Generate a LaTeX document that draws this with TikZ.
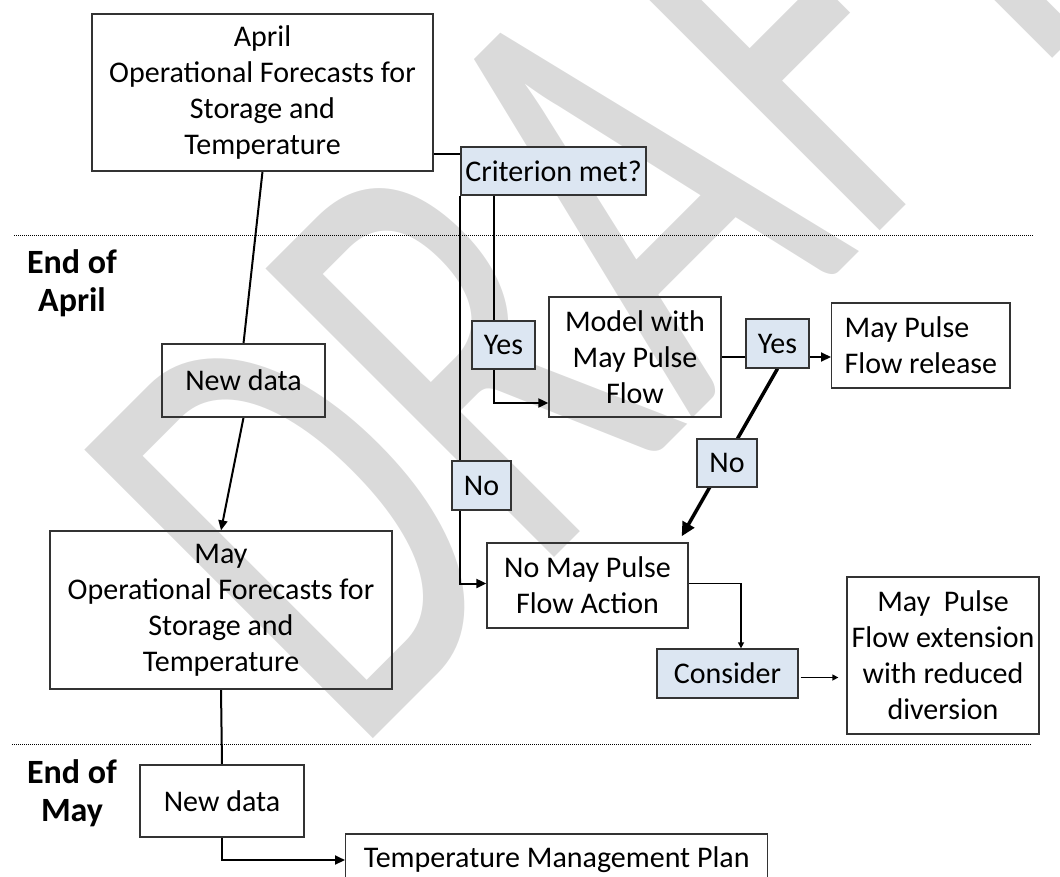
\documentclass[tikz,border=0pt]{standalone}
\usepackage{fontspec}
\setmainfont{Carlito}
\usetikzlibrary{arrows.meta}
\definecolor{answerblue}{RGB}{220,230,242}
\definecolor{draftgray}{RGB}{218,218,218}
\newcommand{\boxfont}{\fontsize{30}{36}\selectfont}
\newcommand{\phasefont}{\fontsize{34}{38}\selectfont\bfseries}
\pgfdeclarelayer{draft}
\pgfdeclarelayer{wires}
\pgfsetlayers{draft,wires,main}

\begin{document}
\begin{tikzpicture}[x=1pt,y=-1pt,>={Triangle[length=10pt,width=9pt]},
    box/.style={draw=black!80,line width=1.3pt,inner sep=0pt,align=center,font=\boxfont},
    answer/.style={box,fill=answerblue},
    phase/.style={align=center,font=\phasefont,inner sep=0pt},
    wire/.style={line width=2pt},
    thinwire/.style={line width=1.4pt,>={Triangle[length=6pt,width=6pt]}},
    heavywire/.style={line width=3.5pt,>={Triangle[length=14pt,width=13pt]}},
    divider/.style={line width=1pt,dash pattern=on 1pt off 1pt}]

  \useasboundingbox (0,0) rectangle (1060,876);

  % watermark
  \begin{pgfonlayer}{draft}
    \clip (0,0) rectangle (1060,876);
    \node[rotate=45,yscale=1.54,text=draftgray,font=\fontsize{413}{413}\selectfont,inner sep=0pt]
      (draft) at (601,222) {DRAFT};
  \end{pgfonlayer}

  \node[box,minimum width=341pt,minimum height=157pt] (aprilfc) at (262.5,92.5)
    {April\\Operational Forecasts for\\Storage and\\Temperature};
  \node[answer,minimum width=185pt,minimum height=48pt] (crit) at (553.5,171) {Criterion met?};
  \node[box,minimum width=163pt,minimum height=73pt] (newA) at (243.5,380.5) {New data};
  \node[box,minimum width=342pt,minimum height=158pt] (mayfc) at (221,610)
    {May\\Operational Forecasts for\\Storage and\\Temperature};
  \node[box,minimum width=164pt,minimum height=72pt] (newB) at (222,801) {New data};
  \node[box,anchor=west,minimum width=422pt,minimum height=52pt] (tmp) at (345,860)
    {Temperature Management Plan};

  \node[answer,minimum width=63pt,minimum height=48pt] (yesA) at (503.5,345) {Yes};
  \node[box,minimum width=172pt,minimum height=120pt] (model) at (635,357) {Model with\\May Pulse\\Flow};
  \node[answer,minimum width=63pt,minimum height=49pt] (yesB) at (777.5,343.5) {Yes};
  \node[box,anchor=west,minimum height=85pt,inner xsep=13pt,align=left] (release) at (831,345.5)
    {May Pulse\\Flow release};
  \node[answer,minimum width=59pt,minimum height=49pt] (noA) at (481.5,485.5) {No};
  \node[answer,minimum width=60pt,minimum height=48pt] (noB) at (727,463) {No};
  \node[box,minimum width=201pt,minimum height=85pt] (nomay) at (587.5,585.5) {No May Pulse\\Flow Action};
  \node[answer,minimum width=141pt,minimum height=49pt] (consider) at (727.5,673.5) {Consider};
  \node[box,minimum width=192pt,minimum height=157pt] (ext) at (943,655.5)
    {May~~Pulse\\Flow extension\\with reduced\\diversion};

  \node[phase] (endapril) at (72,283.5) {End of\\April};
  \node[phase] (endmay) at (72,793.5) {End of\\May};

  \draw[divider] (14,235) -- (1033,235);
  \draw[divider] (12,744) -- (1032,744);

  \begin{pgfonlayer}{wires}
    \draw[wire] ([yshift=17pt]crit.west) -- ([yshift=17pt]crit.west -| aprilfc.east);
    \draw[wire] (aprilfc.south) -- (newA.north);
    \draw[wire,->] (newA.south) -- (mayfc.north);
    \draw[wire] (mayfc.south) -- (newB.north);
    \draw[wire,->] (newB.south) |- (tmp.west);
    \draw[wire,->] (crit.south west) |- ([yshift=2pt]nomay.west);
    \draw[wire,->] ([xshift=34pt]crit.south west) |- ([yshift=-46pt]model.west);
    \draw[wire,->] (model.east) -- (model.east -| release.west);
    \draw[heavywire,->] (yesB.south) -- ([xshift=-7pt,yshift=6pt]nomay.north east);
    \draw[thinwire,->] ([yshift=2pt]nomay.east) -| ([xshift=13.5pt]consider.north);
    \draw[thinwire,->,shorten <=2pt,shorten >=8pt] ([yshift=-4pt]consider.east)
      -- ([yshift=-4pt]consider.east -| ext.west);
  \end{pgfonlayer}

\end{tikzpicture}
\end{document}
